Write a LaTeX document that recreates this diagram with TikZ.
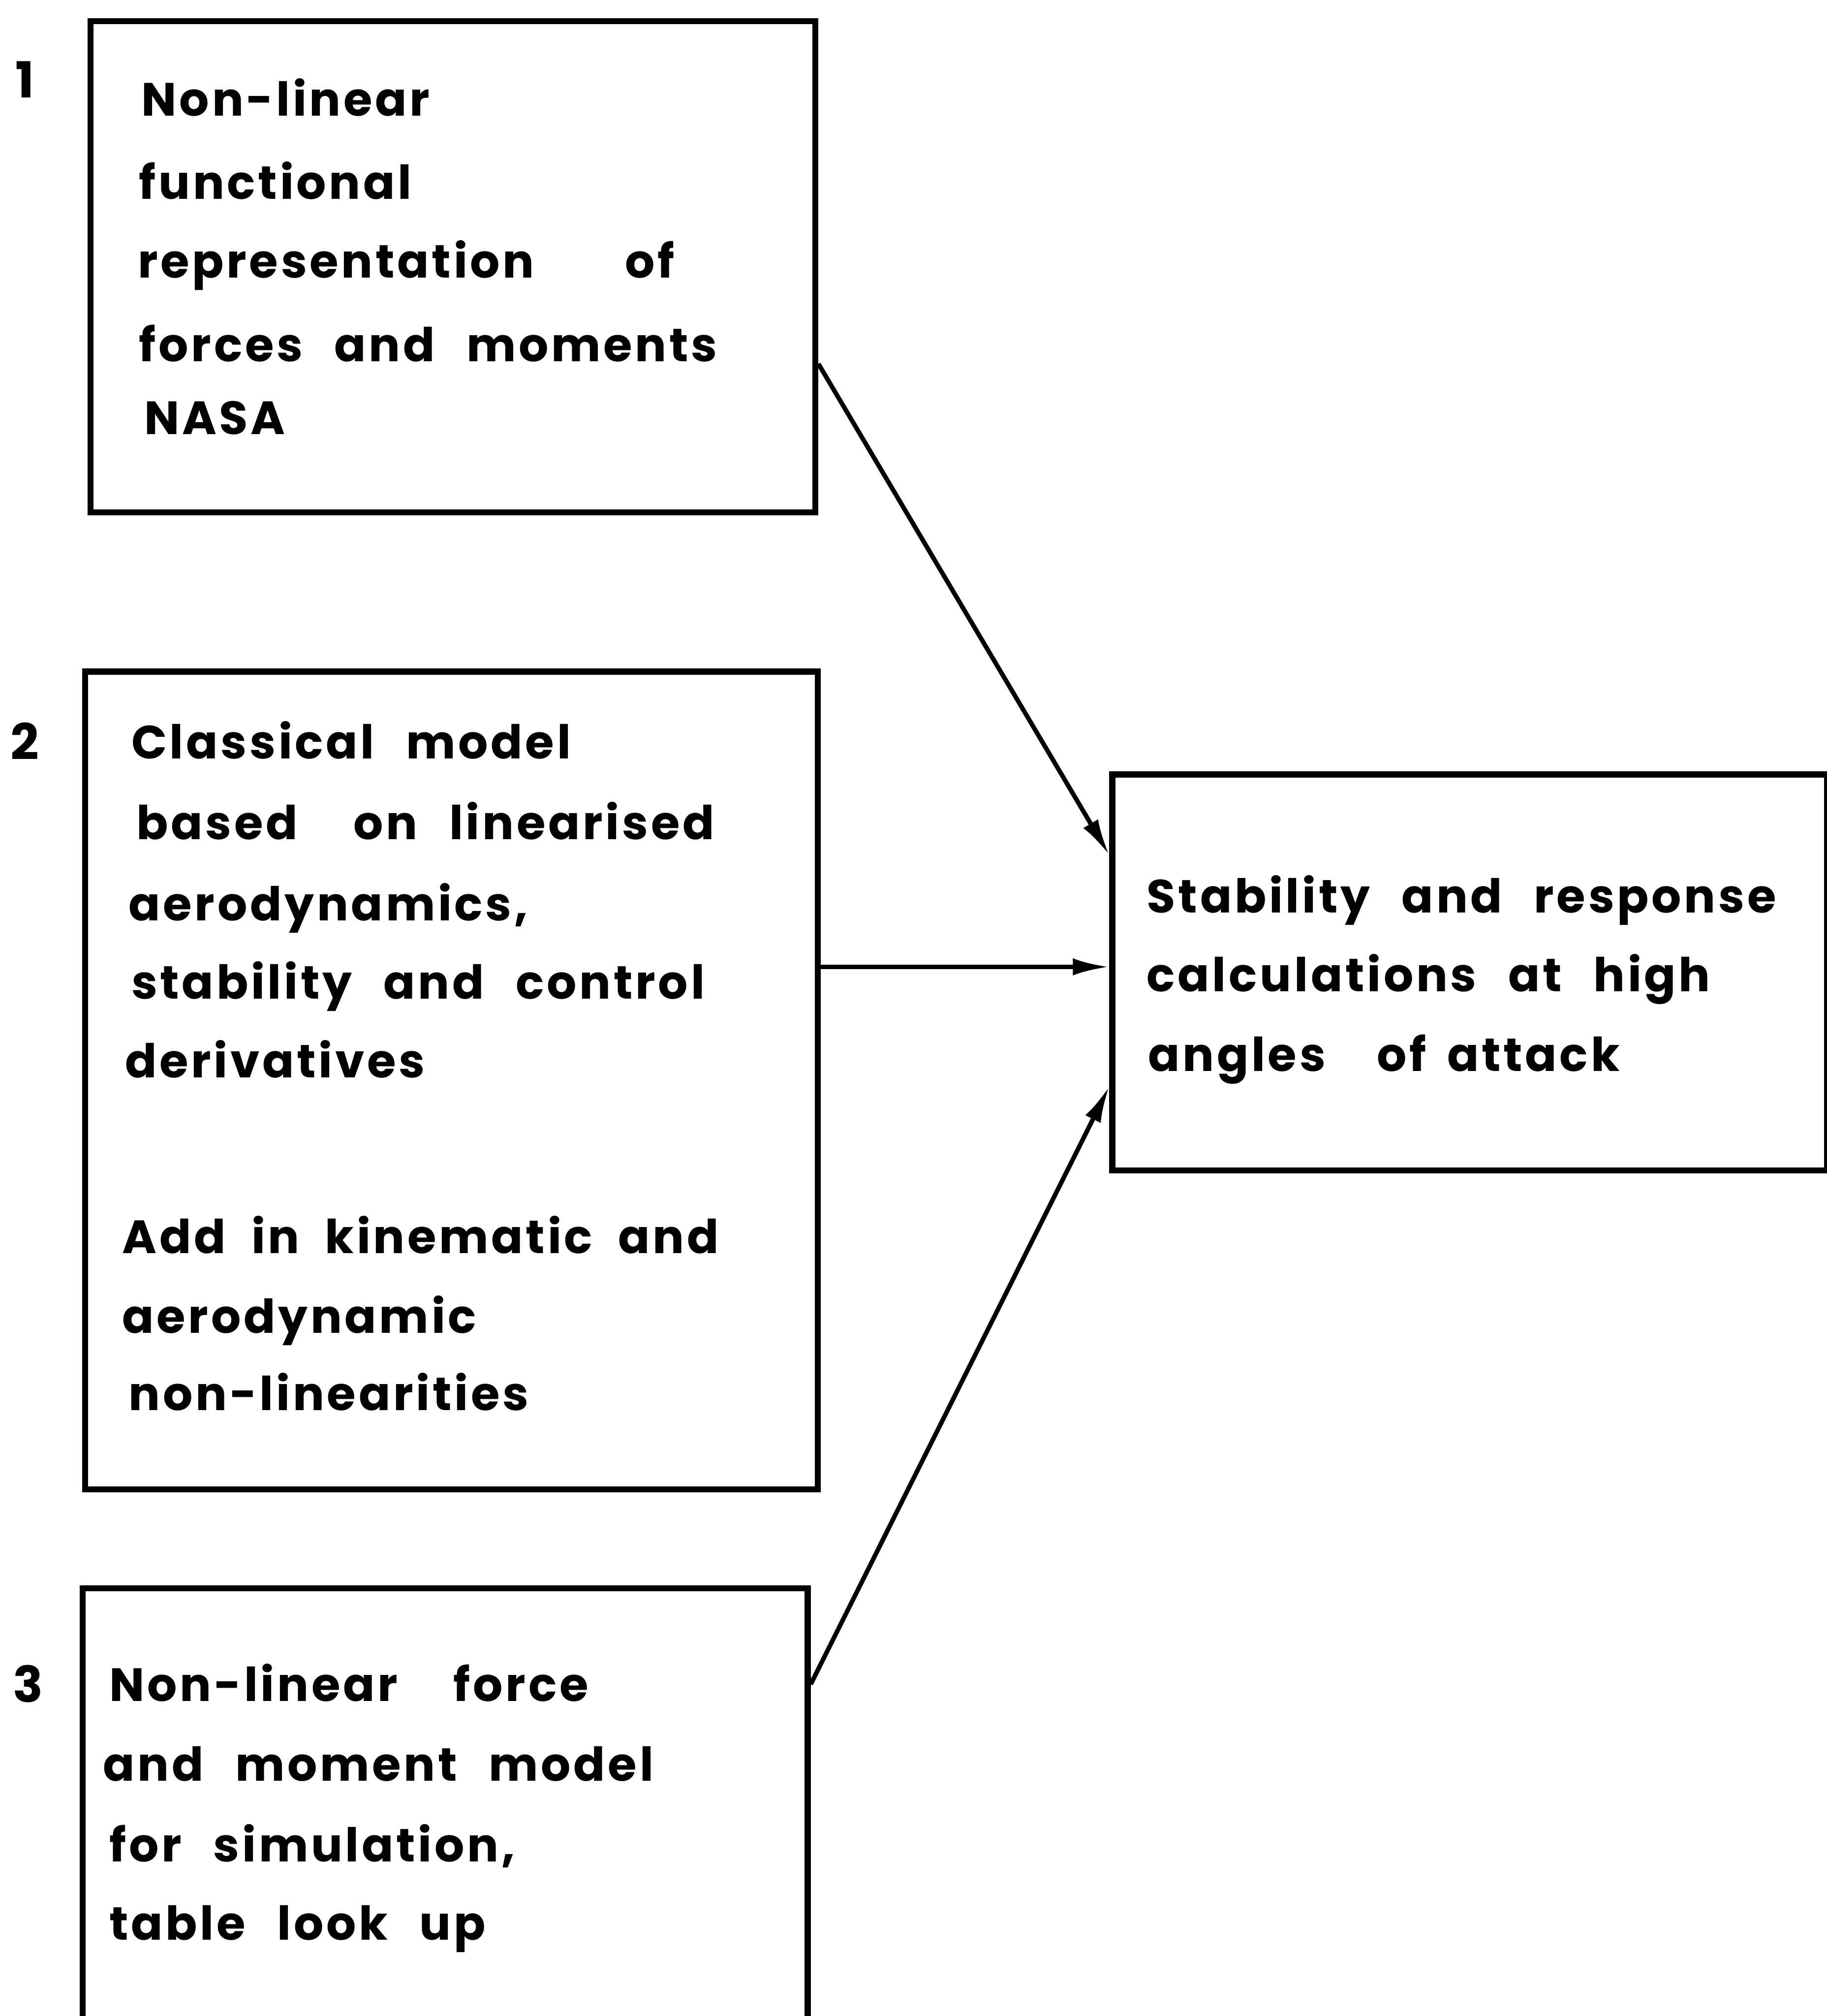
\documentclass[tikz,border=0pt]{standalone}
\usepackage{fontspec}
\setmainfont{Poppins}[LetterSpace=6,WordSpace=2.5]
\usetikzlibrary{arrows.meta,calc}
\begin{document}
\begin{tikzpicture}[x=0.03cm,y=-0.03cm,
  box/.style={draw,line width=4pt,anchor=north west,inner sep=0pt},
  lbl/.style={anchor=base west,inner sep=0pt,font=\fontsize{31}{37}\selectfont\bfseries},
  num/.style={anchor=base west,inner sep=0pt,font=\fontsize{33}{39}\selectfont\bfseries},
  conn/.style={line width=3pt,-{Latex[length=0.85cm,width=0.4cm]}}]
\useasboundingbox[fill=white] (0,0) rectangle (1421,1568);
% boxes
\node[box,minimum width=16.92cm,minimum height=11.46cm] (b1) at (68,14) {};
\node[box,minimum width=17.10cm,minimum height=19.08cm] (b2) at (64,520) {};
\node[box,minimum width=16.92cm,minimum height=12.60cm] (b3) at (62,1233) {};
\node[box,minimum width=16.68cm,minimum height=9.24cm] (b4) at (863,600) {};
% numbers
\node[num] (n1) at (12,76) {1};
\node[num] (n2) at (8,591) {2};
\node[num] (n3) at (10,1324) {3};
% box 1 text
\node[lbl] (t1a) at (110,90) {Non-linear};
\node[lbl] (t1b) at (108,155) {functional};
\node[lbl] (t1c) at (107,216) {representation\hspace{1.95em}of};
\node[lbl] (t1d) at (108,281) {forces and moments};
\node[lbl] (t1e) at (112,338) {NASA};
% box 2 text
\node[lbl] (t2a) at (102,590) {Classical model};
\node[lbl] (t2b) at (106,653) {based\hspace{1.2em}on linearised};
\node[lbl] (t2c) at (100,716) {aerodynamics,};
\node[lbl] (t2d) at (102,777) {stability and control};
\node[lbl] (t2e) at (97,838) {derivatives};
\node[lbl] (t2f) at (95,975) {Add\hspace{0.55em}in\hspace{0.55em}kinematic\hspace{0.55em}and};
\node[lbl] (t2g) at (95,1037) {aerodynamic};
\node[lbl] (t2h) at (100,1097) {non-linearities};
% box 3 text
\node[lbl] (t3a) at (85,1323) {Non-linear\hspace{1.2em}force};
\node[lbl] (t3b) at (80,1385) {and moment model};
\node[lbl] (t3c) at (85,1448) {for simulation,};
\node[lbl] (t3d) at (85,1509) {table look up};
% box 4 text
\node[lbl] (t4a) at (892,710) {Stability and response};
\node[lbl] (t4b) at (892,771) {calculations at high};
\node[lbl] (t4c) at (893,833) {angles\hspace{1.1em}of\hspace{0.45em}attack};
% connectors
\draw[conn] ($(b1.north east)+(0,269)$) -- ($(b4.north west)+(0,65)$);
\draw[conn] ($(b2.north east)+(0,232)$) -- ($(b4.north west)+(0,152)$);
\draw[conn] ($(b3.north east)+(0,77)$) -- ($(b4.north west)+(0,245)$);
\end{tikzpicture}
\end{document}
